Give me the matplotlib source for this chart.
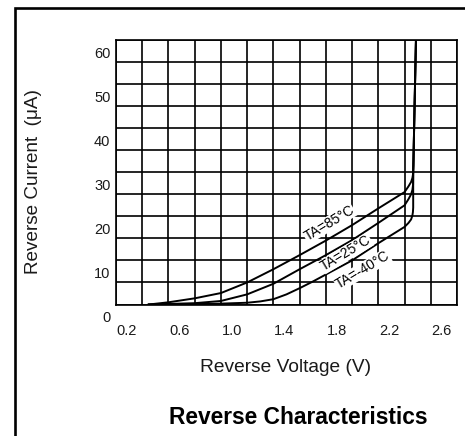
import matplotlib
matplotlib.use("Agg")
import matplotlib.pyplot as plt
from matplotlib.transforms import ScaledTranslation
from matplotlib.lines import Line2D

# ---- data ----
v_85 = [0.45, 0.6, 0.8, 1.0, 1.2, 1.4, 1.6, 1.8, 2.0, 2.2, 2.4, 2.43, 2.45, 2.46, 2.465, 2.468, 2.473, 2.48, 2.487, 2.489]
i_85 = [0.0, 0.5, 1.4, 2.6, 5.0, 8.0, 11.2, 14.5, 18.0, 21.8, 25.5, 26.8, 27.8, 28.7, 29.6, 31.5, 40.0, 50.0, 60.0, 64.0]

v_25 = [0.45, 0.8, 1.0, 1.2, 1.4, 1.6, 1.8, 2.0, 2.2, 2.4, 2.43, 2.45, 2.46, 2.465, 2.466, 2.473, 2.48, 2.487, 2.489]
i_25 = [0.0, 0.3, 0.8, 2.3, 4.7, 8.0, 11.2, 14.6, 18.5, 22.5, 23.9, 25.0, 26.0, 27.2, 30.0, 40.0, 50.0, 60.0, 64.0]

v_m40 = [0.45, 0.8, 1.0, 1.2, 1.3, 1.4, 1.5, 1.6, 1.7, 1.8, 2.0, 2.2, 2.4, 2.43, 2.45, 2.46, 2.464, 2.466, 2.466, 2.473, 2.48, 2.487, 2.489]
i_m40 = [0.0, 0.1, 0.2, 0.4, 0.7, 1.2, 2.3, 3.7, 5.2, 6.8, 10.0, 13.9, 17.6, 18.5, 19.3, 20.2, 21.0, 22.0, 30.0, 40.0, 50.0, 60.0, 64.0]

curve_labels = ["TA=85°C", "TA=25°C", "TA=-40°C"]
label_pos = [(1.827, 18.4), (1.954, 11.6), (2.08, 7.8)]

x_grid = [0.2, 0.4, 0.6, 0.8, 1.0, 1.2, 1.4, 1.6, 1.8, 2.0, 2.2, 2.4, 2.6, 2.8]
x_ticklabels = ["0.2", "", "0.6", "", "1.0", "", "1.4", "", "1.8", "", "2.2", "", "2.6", ""]
y_grid = [0, 5, 10, 15, 20, 25, 30, 35, 40, 45, 50, 55, 60]
y_ticklabels = ["0", "", "10", "", "20", "", "30", "", "40", "", "50", "", "60"]

plt.rcParams['font.family'] = ['Liberation Sans', 'DejaVu Sans']

W, H = 465, 436
fig = plt.figure(figsize=(W / 100, H / 100), dpi=100)
ax = fig.add_axes([116 / W, 1 - 304.5 / H, (457 - 116) / W, (304.5 - 40) / H])

for v, i in [(v_85, i_85), (v_25, i_25), (v_m40, i_m40)]:
    ax.plot(v, i, color='black', lw=1.4, solid_joinstyle='round', zorder=3)

ax.set_xlim(0.2, 2.8)
ax.set_ylim(0, 60)
ax.set_xticks(x_grid)
ax.set_xticklabels(x_ticklabels)
ax.set_yticks(y_grid)
ax.set_yticklabels(y_ticklabels)
ax.grid(True, color='black', lw=1.2)
ax.set_axisbelow(True)
for s in ax.spines.values():
    s.set_linewidth(1.2)
ax.tick_params(axis='both', length=0, labelsize=10.5, colors='#1a1a1a')
ax.tick_params(axis='x', pad=14)
ax.tick_params(axis='y', pad=4)

for lab in ax.get_xticklabels():
    lab.set_transform(lab.get_transform() + ScaledTranslation(11 / 100, 0, fig.dpi_scale_trans))
for lab in ax.get_yticklabels():
    lab.set_transform(lab.get_transform() + ScaledTranslation(0, -12 / 100, fig.dpi_scale_trans))

for txt, (x, y) in zip(curve_labels, label_pos):
    ax.text(x, y, txt, rotation=31, ha='center', va='center', fontsize=10,
            rotation_mode='anchor', zorder=4,
            bbox=dict(facecolor='white', edgecolor='none', pad=0.3))

ax.set_xlabel("Reverse Voltage (V)", fontsize=13.8, va='center', color='#1a1a1a')
ax.xaxis.set_label_coords((286 - 116) / 341, (304.5 - 368) / 264.5)
ax.set_ylabel("Reverse Current  (μA)", fontsize=13.6, va='center', color='#1a1a1a')
ax.yaxis.set_label_coords((33 - 116) / 341, (304.5 - 182) / 264.5)

ax.text((298 - 116) / 341, (304.5 - 418) / 264.5, "Reverse Characteristics",
        transform=ax.transAxes, ha='center', va='center', fontsize=16.4,
        fontweight='bold')

# outer frame (left and top edges)
fig.add_artist(Line2D([15 / W, 15 / W, 1.0], [0.0, 1 - 8.5 / H, 1 - 8.5 / H],
                      transform=fig.transFigure, color='black', lw=1.9,
                      solid_joinstyle='miter'))

fig.savefig("out.png", dpi=100)
